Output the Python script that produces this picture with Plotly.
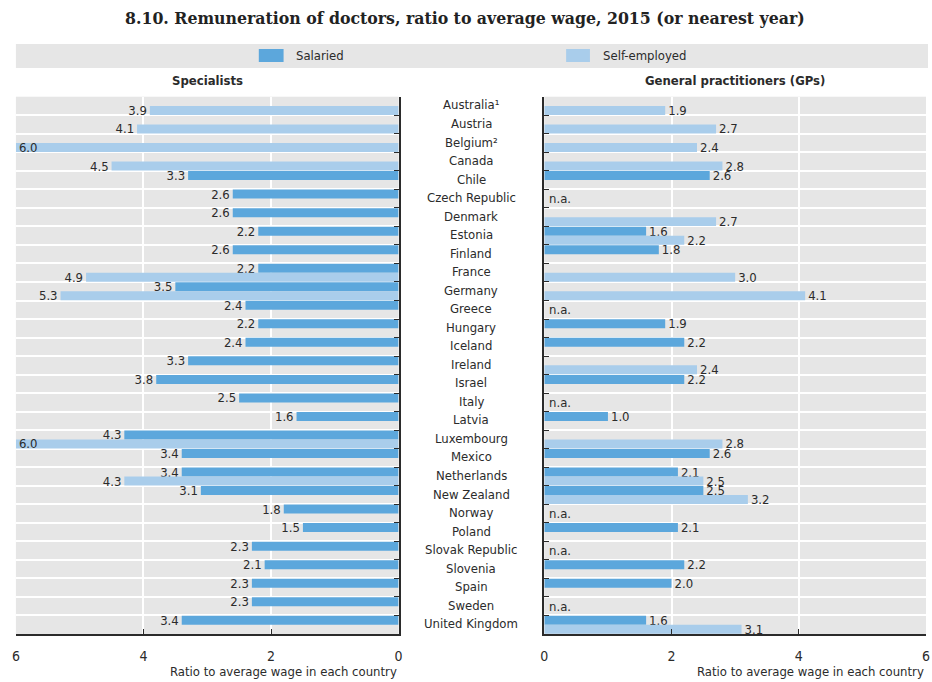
import plotly.graph_objects as go

countries = ["Australia¹", "Austria", "Belgium²", "Canada", "Chile", "Czech Republic",
             "Denmark", "Estonia", "Finland", "France", "Germany", "Greece", "Hungary",
             "Iceland", "Ireland", "Israel", "Italy", "Latvia", "Luxembourg", "Mexico",
             "Netherlands", "New Zealand", "Norway", "Poland", "Slovak Republic",
             "Slovenia", "Spain", "Sweden", "United Kingdom"]

spec_salaried = [None, None, None, None, 3.3, 2.6, 2.6, 2.2, 2.6, 2.2, 3.5, 2.4, 2.2,
                 2.4, 3.3, 3.8, 2.5, 1.6, 4.3, 3.4, 3.4, 3.1, 1.8, 1.5, 2.3, 2.1, 2.3, 2.3, 3.4]
spec_self = [3.9, 4.1, 6.0, 4.5, None, None, None, None, None, 4.9, 5.3, None, None,
             None, None, None, None, None, 6.0, None, 4.3, None, None, None, None, None,
             None, None, None]
gp_salaried = [None, None, None, None, 2.6, None, None, 1.6, 1.8, None, None, None, 1.9,
               2.2, None, 2.2, None, 1.0, None, 2.6, 2.1, 2.5, None, 2.1, None, 2.2, 2.0,
               None, 1.6]
gp_self = [1.9, 2.7, 2.4, 2.8, None, None, 2.7, 2.2, None, 3.0, 4.1, None, None,
           None, 2.4, None, None, None, 2.8, None, 2.5, 3.2, None, None, None, None,
           None, None, 3.1]
x_ticks = [0, 2, 4, 6]

W, H = 932, 682
C_SAL = "#5ca7dc"
C_SELF = "#a9cdeb"
BG = "#e6e6e6"
TXT = "#2b2b2b"
NARROW = "Liberation Sans Narrow, Arial Narrow, DejaVu Sans Condensed, sans-serif"

pos = list(range(len(countries)))

def px_x(p):
    return p / W

def px_y(p):
    return 1 - p / H

fig = go.Figure()

def add_bar(vals, color, name, xa, ya, side_left):
    tp = []
    for v in vals:
        if side_left and v is not None and v >= 5.95:
            tp.append("inside")
        else:
            tp.append("outside")
    fig.add_trace(go.Bar(
        x=vals, y=pos, orientation="h", name=name, marker_color=color,
        marker_line_width=0, xaxis=xa, yaxis=ya, showlegend=False,
        texttemplate="%{x:.1f}", textposition=tp, insidetextanchor="end",
        constraintext="none", cliponaxis=False,
        outsidetextfont=dict(color=TXT, size=13, family=NARROW),
        insidetextfont=dict(color=TXT, size=13, family=NARROW),
        hoverinfo="skip"))

add_bar(spec_salaried, C_SAL, "Salaried", "x", "y", True)
add_bar(spec_self, C_SELF, "Self-employed", "x", "y", True)
add_bar(gp_salaried, C_SAL, "Salaried", "x2", "y2", False)
add_bar(gp_self, C_SELF, "Self-employed", "x2", "y2", False)

ydom = [px_y(634), px_y(96.7)]
row_bounds = [i - 0.5 for i in range(len(countries) + 1)]

common_x = dict(tickvals=x_ticks, showgrid=True, gridcolor="white", gridwidth=2,
                showline=True, linecolor=TXT, linewidth=1.5, ticks="inside", ticklen=5,
                tickcolor=TXT, zeroline=False, fixedrange=True,
                tickfont=dict(family=NARROW, size=14, color=TXT), ticklabelstandoff=8)
common_y = dict(domain=ydom, range=[len(countries) - 0.5, -0.5], tickvals=row_bounds,
                showticklabels=False, showgrid=True, gridcolor="white", gridwidth=2,
                showline=True, linecolor=TXT, linewidth=1.5, ticks="inside", ticklen=5,
                tickcolor=TXT, zeroline=False, fixedrange=True)

annotations = []
shapes = []

# country labels
for i, c in enumerate(countries):
    annotations.append(dict(x=px_x(471.5), y=i, xref="paper", yref="y", text=c,
                            showarrow=False, xanchor="center", yanchor="middle", yshift=1,
                            font=dict(family=NARROW, size=13, color=TXT)))
# n.a. labels on GP panel
for i, (a, b) in enumerate(zip(gp_salaried, gp_self)):
    if a is None and b is None:
        annotations.append(dict(x=0, y=i, xref="x2", yref="y2", text="n.a.",
                                showarrow=False, xanchor="left", yanchor="middle",
                                xshift=3, font=dict(family=NARROW, size=13, color=TXT)))

# title
annotations.append(dict(x=px_x(465), y=px_y(18), xref="paper", yref="paper",
                        text="<b>8.10. Remuneration of doctors, ratio to average wage, 2015 (or nearest year)</b>",
                        showarrow=False, xanchor="center", yanchor="middle",
                        font=dict(family="DejaVu Serif Condensed, DejaVu Serif, serif", size=17.5, color="#222222")))
# legend band
shapes.append(dict(type="rect", xref="paper", yref="paper", x0=px_x(12), x1=1,
                   y0=px_y(68), y1=px_y(44), fillcolor=BG, line_width=0, layer="below"))
for (x0, x1, tx, col, name) in [(257, 282, 293, C_SAL, "Salaried"),
                                 (567, 591, 602, C_SELF, "Self-employed")]:
    shapes.append(dict(type="rect", xref="paper", yref="paper", x0=px_x(x0), x1=px_x(x1),
                       y0=px_y(62), y1=px_y(49), fillcolor=col, line_width=0))
    annotations.append(dict(x=px_x(tx), y=px_y(55.5), xref="paper", yref="paper", text=name,
                            showarrow=False, xanchor="left", yanchor="middle",
                            font=dict(family=NARROW, size=13, color=TXT)))
# panel subtitles
annotations.append(dict(x=px_x(205), y=px_y(80), xref="paper", yref="paper", text="<b>Specialists</b>",
                        showarrow=False, xanchor="center", yanchor="middle",
                        font=dict(family=NARROW, size=13, color=TXT)))
annotations.append(dict(x=px_x(737.5), y=px_y(80), xref="paper", yref="paper",
                        text="<b>General practitioners (GPs)</b>",
                        showarrow=False, xanchor="center", yanchor="middle",
                        font=dict(family=NARROW, size=13, color=TXT)))
# axis titles
for xr in (398, 930):
    annotations.append(dict(x=px_x(xr), y=px_y(671), xref="paper", yref="paper",
                            text="Ratio to average wage in each country",
                            showarrow=False, xanchor="right", yanchor="middle",
                            font=dict(family=NARROW, size=13, color=TXT)))

fig.update_layout(
    width=W, height=H, margin=dict(l=0, r=0, t=0, b=0),
    paper_bgcolor="white", plot_bgcolor=BG,
    barmode="group", bargap=0.03, bargroupgap=0,
    showlegend=False, hovermode=False,
    xaxis=dict(domain=[px_x(12), px_x(398)], range=[6, 0], anchor="y", **common_x),
    yaxis=dict(anchor="x", side="right", **common_y),
    xaxis2=dict(domain=[px_x(545), px_x(930)], range=[0, 6], anchor="y2", **common_x),
    yaxis2=dict(anchor="x2", side="left", **common_y),
    annotations=annotations, shapes=shapes,
)

fig.write_html("out.html", config={"displayModeBar": False},
               post_script="document.body.style.margin='0';document.body.style.overflow='hidden';")
